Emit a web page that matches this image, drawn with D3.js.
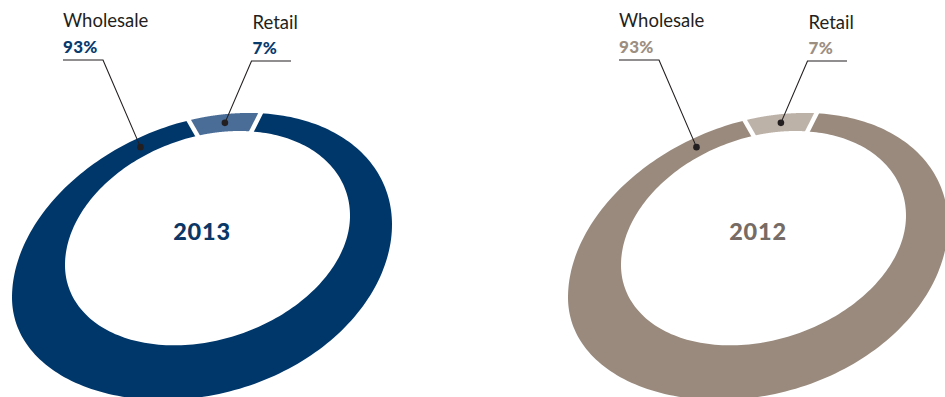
<!DOCTYPE html>
<html><head><meta charset="utf-8">
<script src="https://cdn.jsdelivr.net/npm/d3@7"></script>
<style>html,body{margin:0;padding:0;background:#fff;overflow:hidden}svg{display:block}</style>
</head><body><svg id="c" width="945" height="397"></svg>
<script>
// ---- data ----
const categories = ["Wholesale", "Retail"];
const years = ["2013", "2012"];
const values2013 = [93, 7];
const values2012 = [93, 7];
const pctLabels2013 = ["93%", "7%"];
const pctLabels2012 = ["93%", "7%"];

// ---- styling / layout ----
const palettes = {
  "2013": {seg: ["#00376B", "#4A6D98"], pct: "#073A6D", year: "#0B3766"},
  "2012": {seg: ["#998A7D", "#BDB2A8"], pct: "#9C8E81", year: "#776B65"}
};
const offsetsX = {"2013": 0, "2012": 556};
const startDeg = 20.6;           // pie start angle (clockwise from 12 o'clock)
const warp = 0.13;               // perspective compression of angles
const outerGeom = {cx: 202, cy: 261, W: 190, m: -36.4, Kt: 143.5, Kb: 136, c: 8};
const innerGeom = {cx: 207.5, cy: 240.4, W: 142.5, m: -24.6, Kt: 106.6, Kb: 102, c: 0};
const anchorDeg = [-26, null];   // leader anchor angle per category (null = mid of slice)
const labelLayout = [
  {x: 63, nameY: 26.7, pctY: 52.7, lineY: 60, elbowX: 103, lineTo: 63},
  {x: 252.5, nameY: 29, pctY: 54.3, lineY: 61, elbowX: 251.5, lineTo: 291}
];
const fontFamily = "Lato, 'Open Sans', sans-serif";

const svg = d3.select("#c");

function toT(a) { // pie angle (rad, clockwise from top) -> ellipse parameter
  const th = a - Math.PI / 2;
  return th - warp * Math.cos(th);
}
function pt(e, t, dx) {
  const s = Math.sin(t), c = Math.cos(t);
  const x = e.cx + e.W * c + dx;
  const y = e.cy + e.m * c + (s < 0 ? e.Kt : e.Kb) * s + (s > 0 ? e.c * s * c : 0);
  return [x, y];
}

const pie = d3.pie().sort(null).value(d => d)
  .startAngle(startDeg * Math.PI / 180)
  .endAngle(startDeg * Math.PI / 180 + 2 * Math.PI);
const line = d3.line();

function drawChart(year, values, pctLabels) {
  const dx = offsetsX[year];
  const pal = palettes[year];
  const g = svg.append("g");
  const arcs = pie(values);

  arcs.forEach((d, i) => {
    const n = 240;
    const pts = [];
    for (let k = 0; k <= n; k++) {
      const a = d.startAngle + (d.endAngle - d.startAngle) * k / n;
      pts.push(pt(outerGeom, toT(a), dx));
    }
    for (let k = n; k >= 0; k--) {
      const a = d.startAngle + (d.endAngle - d.startAngle) * k / n;
      pts.push(pt(innerGeom, toT(a), dx));
    }
    g.append("path").attr("d", line(pts) + "Z").attr("fill", pal.seg[i]);
  });

  // white separators between slices
  arcs.forEach(d => {
    const t = toT(d.startAngle);
    const o = pt(outerGeom, t, dx), inn = pt(innerGeom, t, dx);
    const vx = o[0] - inn[0], vy = o[1] - inn[1];
    const len = Math.hypot(vx, vy);
    const ux = vx / len, uy = vy / len;
    g.append("line")
      .attr("x1", inn[0] - ux * 3).attr("y1", inn[1] - uy * 3)
      .attr("x2", o[0] + ux * 3).attr("y2", o[1] + uy * 3)
      .attr("stroke", "#fff").attr("stroke-width", 4.5);
  });

  // leaders and labels
  arcs.forEach((d, i) => {
    const a = anchorDeg[i] == null ? (d.startAngle + d.endAngle) / 2 : anchorDeg[i] * Math.PI / 180;
    const t = toT(a);
    const o = pt(outerGeom, t, dx), inn = pt(innerGeom, t, dx);
    const p = [(o[0] + inn[0]) / 2, (o[1] + inn[1]) / 2];
    const L = labelLayout[i];
    g.append("path")
      .attr("d", line([p, [L.elbowX + dx, L.lineY], [L.lineTo + dx, L.lineY]]))
      .attr("fill", "none").attr("stroke", "#231F20").attr("stroke-width", 1.1);
    g.append("circle").attr("cx", p[0]).attr("cy", p[1]).attr("r", 3.3).attr("fill", "#231F20");
    g.append("text").attr("x", L.x + dx).attr("y", L.nameY)
      .attr("font-family", fontFamily).attr("font-weight", 400)
      .attr("font-size", 18.5).attr("fill", "#231F20").text(categories[i]);
    g.append("text").attr("x", L.x + dx).attr("y", L.pctY)
      .attr("font-family", fontFamily).attr("font-weight", 900)
      .attr("font-size", 17).attr("letter-spacing", 0.3).attr("fill", pal.pct).text(pctLabels[i]);
  });

  g.append("text").attr("x", outerGeom.cx + dx).attr("y", 240)
    .attr("text-anchor", "middle")
    .attr("font-family", fontFamily).attr("font-weight", 900)
    .attr("font-size", 23.5).attr("letter-spacing", 0.8).attr("fill", pal.year).text(year);
}

drawChart("2013", values2013, pctLabels2013);
drawChart("2012", values2012, pctLabels2012);
</script>
</body></html>
